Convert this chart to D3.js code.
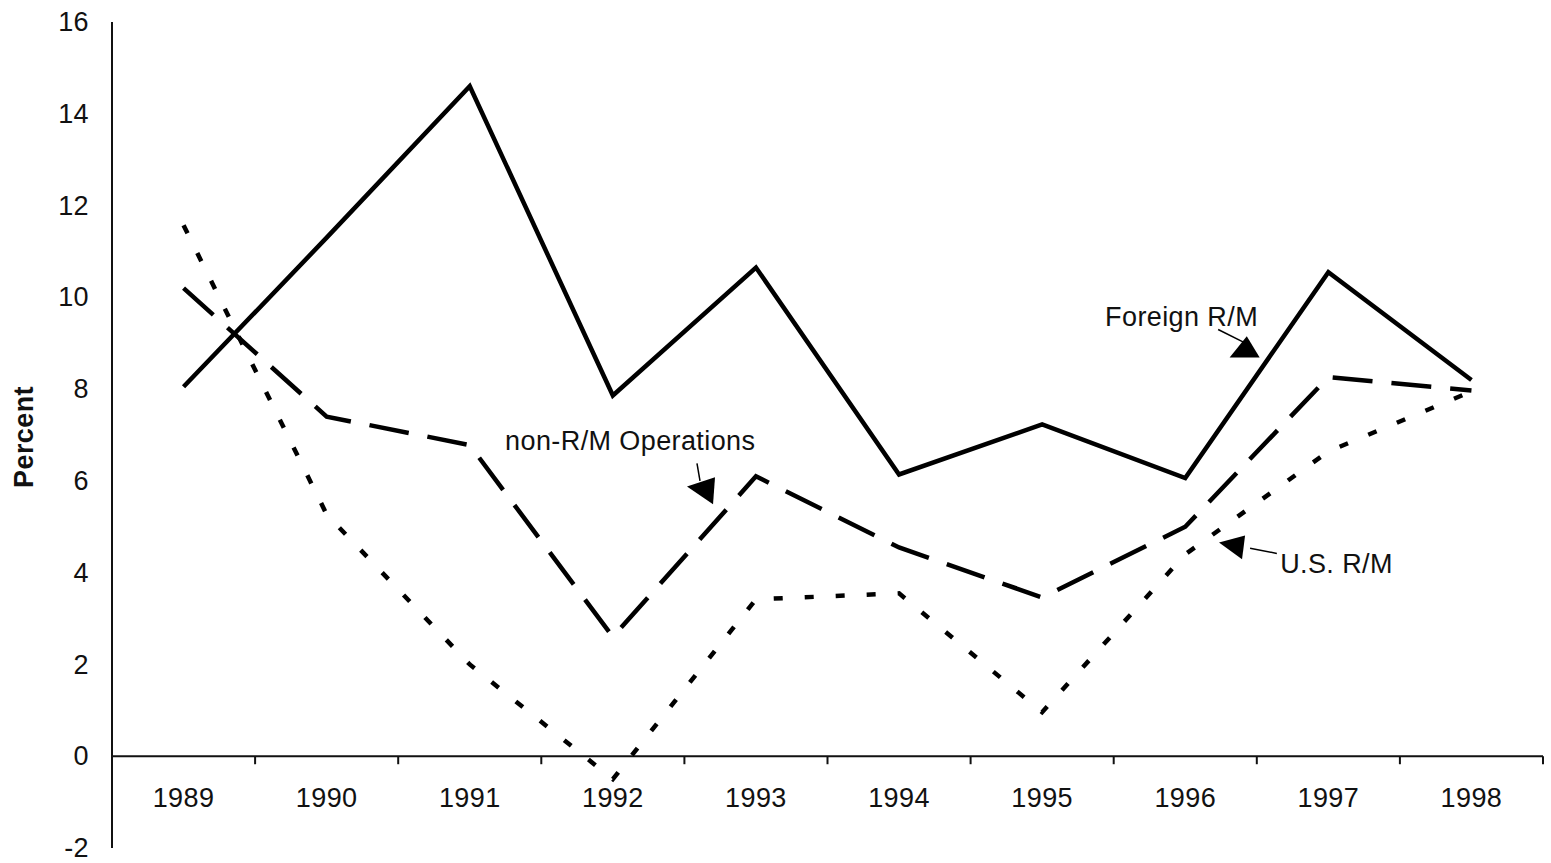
<!DOCTYPE html>
<html>
<head>
<meta charset="utf-8">
<script src="https://cdn.jsdelivr.net/npm/d3@7"></script>
<style>
  html, body { margin: 0; padding: 0; background: #fff; }
  text { font-family: "Liberation Sans", Arial, sans-serif; fill: #111; letter-spacing: 0.4px; }
</style>
</head>
<body>
<div id="svg-container"></div>
<script>
////////////////////////////////////////////////////////////////////
////////////////////////////  Data  ////////////////////////////////
const years = ["1989", "1990", "1991", "1992", "1993", "1994", "1995", "1996", "1997", "1998"];
const foreignRM = [8.05, 11.3, 14.6, 7.86, 10.65, 6.14, 7.23, 6.06, 10.55, 8.2];
const nonRM = [10.2, 7.4, 6.78, 2.6, 6.1, 4.55, 3.46, 5.0, 8.26, 7.97];
const usRM = [11.57, 5.27, 2.0, -0.5, 3.42, 3.55, 0.96, 4.4, 6.64, 7.95];
const yTicks = [-2, 0, 2, 4, 6, 8, 10, 12, 14, 16];

////////////////////////////////////////////////////////////////////
////////////////////////////  Init  ///////////////////////////////
const width = 1551;
const height = 863;
const margin = { top: 22, right: 8, bottom: 15, left: 112 };
const fontSize = "27px";

const svg = d3.select("#svg-container").append("svg")
  .attr("width", width)
  .attr("height", height);

const xScale = d3.scaleBand()
  .domain(years)
  .range([margin.left, width - margin.right]);

const yScale = d3.scaleLinear()
  .domain([-2, 16])
  .range([height - margin.bottom, margin.top]);

// fractional category index -> pixel (for the annotations)
const fx = (i) => xScale(years[0]) + xScale.bandwidth() / 2 + i * xScale.step();

// y axis
svg.append("line")
  .attr("x1", margin.left).attr("x2", margin.left)
  .attr("y1", yScale(16)).attr("y2", yScale(-2))
  .attr("stroke", "#111").attr("stroke-width", 2);

const yAxis = svg.append("g")
  .attr("transform", `translate(${margin.left},0)`)
  .call(d3.axisLeft(yScale).tickValues(yTicks).tickFormat((d) => String(d)).tickSize(0).tickPadding(23));
yAxis.select(".domain").remove();
yAxis.selectAll("text")
  .style("font-size", fontSize)
  .style("font-family", "'Liberation Sans', Arial, sans-serif")
  .attr("fill", "#111");

// x axis at zero
const y0 = yScale(0);
svg.append("line")
  .attr("x1", margin.left).attr("x2", width - margin.right)
  .attr("y1", y0).attr("y2", y0)
  .attr("stroke", "#111").attr("stroke-width", 2);

const boundaries = years.map((d) => xScale(d)).slice(1).concat([xScale.range()[1]]);
svg.selectAll(".xtick")
  .data(boundaries)
  .enter()
  .append("line")
  .attr("class", "xtick")
  .attr("x1", (d) => d).attr("x2", (d) => d)
  .attr("y1", y0).attr("y2", y0 + 8)
  .attr("stroke", "#111").attr("stroke-width", 2);

svg.selectAll(".xlabel")
  .data(years)
  .enter()
  .append("text")
  .attr("class", "xlabel")
  .attr("x", (d) => xScale(d) + xScale.bandwidth() / 2)
  .attr("y", y0 + 51)
  .attr("text-anchor", "middle")
  .style("font-size", fontSize)
  .text((d) => d);

// y title
svg.append("text")
  .attr("transform", `translate(33,${(yScale(6) + yScale(8)) / 2 + 2}) rotate(-90)`)
  .attr("text-anchor", "middle")
  .style("font-size", fontSize)
  .style("font-weight", "bold")
  .text("Percent");

////////////////////////////////////////////////////////////////////
////////////////////////////  Lines  ///////////////////////////////
const line = d3.line()
  .x((d, i) => xScale(years[i]) + xScale.bandwidth() / 2)
  .y((d) => yScale(d));

const series = [
  { values: usRM, dash: "9,22" },
  { values: nonRM, dash: "40,19" },
  { values: foreignRM, dash: null },
];

svg.selectAll(".series")
  .data(series)
  .enter()
  .append("path")
  .attr("class", "series")
  .attr("d", (d) => line(d.values))
  .attr("fill", "none")
  .attr("stroke", "#000")
  .attr("stroke-width", 4.5)
  .attr("stroke-linejoin", "miter")
  .attr("stroke-dasharray", (d) => d.dash);

////////////////////////////////////////////////////////////////////
////////////////////////////  Annotations  /////////////////////////
// positions in (category index, value) space
const annotations = [
  {
    label: "Foreign R/M", tx: 6.44, ty: 9.37,
    lead: [[7.23, 9.3], [7.41, 9.02]],
    head: [[7.43, 9.15], [7.31, 8.69], [7.52, 8.69]],
  },
  {
    label: "non-R/M Operations", tx: 2.247, ty: 6.67,
    lead: [[3.588, 6.38], [3.609, 6.0]],
    head: [[3.518, 5.88], [3.714, 6.08], [3.7, 5.49]],
  },
  {
    label: "U.S. R/M", tx: 7.663, ty: 3.99,
    lead: [[7.64, 4.42], [7.453, 4.53]],
    head: [[7.236, 4.66], [7.418, 4.81], [7.397, 4.29]],
  },
];

const ann = svg.selectAll(".ann")
  .data(annotations)
  .enter()
  .append("g")
  .attr("class", "ann");

ann.append("text")
  .attr("x", (d) => fx(d.tx))
  .attr("y", (d) => yScale(d.ty))
  .style("font-size", fontSize)
  .text((d) => d.label);

ann.append("path")
  .attr("d", (d) => d3.line()(d.lead.map((p) => [fx(p[0]), yScale(p[1])])))
  .attr("fill", "none")
  .attr("stroke", "#000")
  .attr("stroke-width", 1.5);

ann.append("polygon")
  .attr("points", (d) => d.head.map((p) => [fx(p[0]), yScale(p[1])].join(",")).join(" "))
  .attr("fill", "#000");
</script>
</body>
</html>
